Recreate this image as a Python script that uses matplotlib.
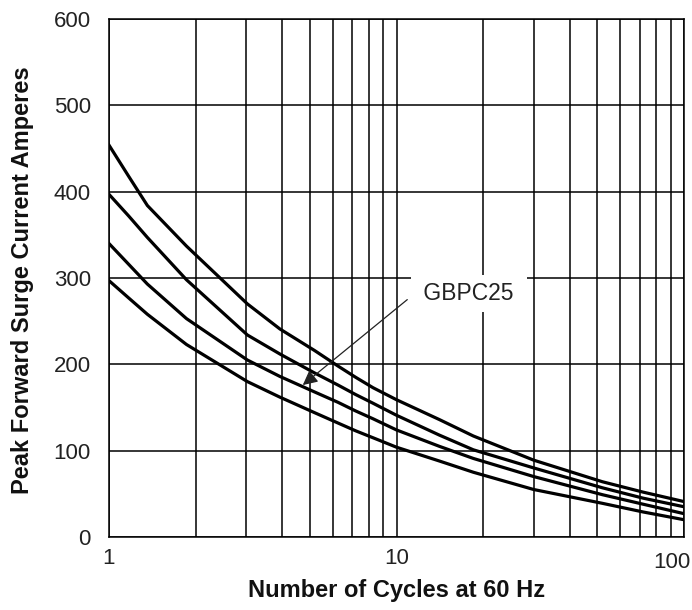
"""Peak forward surge current vs number of cycles (GBPC25 datasheet curve)."""
import matplotlib
matplotlib.use("Agg")
import matplotlib.pyplot as plt
import matplotlib.transforms as mtransforms
from matplotlib.ticker import FixedLocator, NullFormatter

cycles = [1, 1.17, 1.36, 1.86, 3.03, 3.93, 5.19, 6.26, 7.21, 8.28, 10, 14.1, 18.5, 30, 52, 72, 100]
curve_a = [454, 418, 384, 337, 270, 241, 216, 198, 185, 173, 159, 136, 117, 89, 64, 52, 41]
curve_b = [397, 372, 347, 298, 234, 212, 190, 176, 165, 155, 141, 118, 101, 80, 57, 45, 35]
curve_c = [340, 316, 293, 253, 205, 186, 168, 156, 146, 137, 124, 105, 91, 70, 49, 38, 27]
curve_d = [297, 277, 258, 223, 180, 162, 144, 132, 123, 115, 104, 88, 75, 55, 39, 29, 20]

y_ticks = [0, 100, 200, 300, 400, 500, 600]
x_ticks = [1, 10, 100]
x_tick_labels = ["1", "10", "100"]
x_grid = [2, 3, 4, 5, 6, 7, 8, 9, 20, 30, 40, 50, 60, 70, 80, 90]

part_label = "GBPC25"
label_pos = (17.85, 282)
arrow_tail = (10.9, 275)
arrow_tip = (4.72, 176)

plt.rcParams.update({"font.family": "Liberation Sans"})

fig = plt.figure(figsize=(6.92, 6.10), dpi=100)
ax = fig.add_axes([0.1575, 0.1197, 0.831, 0.849])

for ys in (curve_a, curve_b, curve_c, curve_d):
    ax.plot(cycles, ys, color="black", lw=2.3, solid_joinstyle="round", zorder=3)

ax.set_xscale("log")
ax.set_xlim(1, 100)
ax.set_ylim(0, 600)

ax.xaxis.set_major_locator(FixedLocator(x_ticks))
ax.set_xticklabels(x_tick_labels)
ax.xaxis.set_minor_locator(FixedLocator(x_grid))
ax.xaxis.set_minor_formatter(NullFormatter())
ax.set_yticks(y_ticks)

ax.grid(True, which="both", axis="x", color="black", lw=1.1)
ax.grid(True, which="major", axis="y", color="black", lw=1.1)
ax.tick_params(which="both", length=0, labelsize=16, colors="#222222")
ax.tick_params(axis="y", pad=13)
ax.tick_params(axis="x", pad=8)
for s in ax.spines.values():
    s.set_linewidth(1.1)

# last x label sits against the right edge in the original
last = ax.get_xticklabels()[-1]
last.set_transform(last.get_transform() + mtransforms.ScaledTranslation(-12 / 100, -4 / 100, fig.dpi_scale_trans))

ax.set_xlabel("Number of Cycles at 60 Hz", fontsize=17, fontweight="bold", color="#111111")
ax.xaxis.set_label_coords(0.5, -0.103)
ax.xaxis.label.set_va("center")
ax.set_ylabel("Peak Forward Surge Current Amperes", fontsize=17, fontweight="bold", color="#111111")
ax.yaxis.set_label_coords(-0.151, 0.495)
ax.yaxis.label.set_va("center")

ax.text(*label_pos, " " + part_label + " ", fontsize=16.5, color="#222222", ha="center", va="center",
        bbox=dict(boxstyle="square,pad=0.3", fc="white", ec="none"), zorder=5)
ax.annotate(
    "", xy=arrow_tip, xytext=arrow_tail,
    arrowprops=dict(arrowstyle="-|>", color="#222222", lw=0.9, mutation_scale=22,
                    shrinkA=0, shrinkB=0),
    zorder=5,
)

fig.savefig("out.png", dpi=100)
